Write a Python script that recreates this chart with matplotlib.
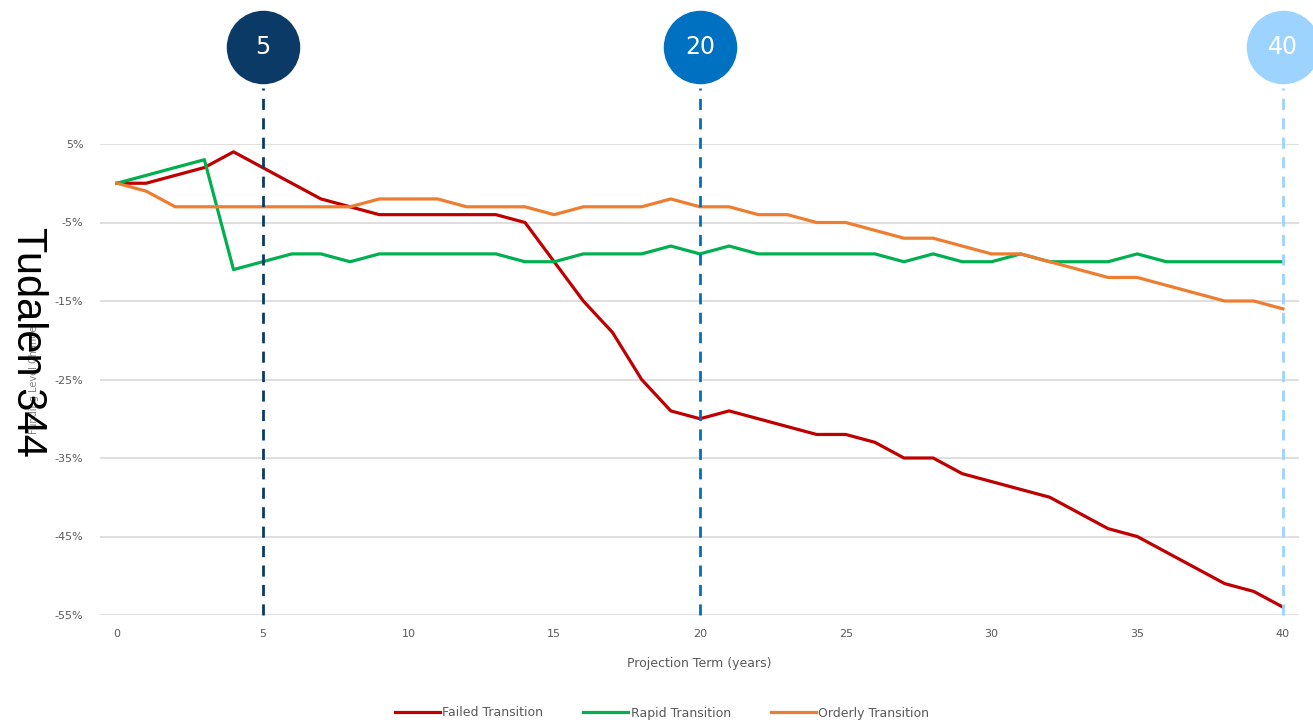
import matplotlib
matplotlib.use("Agg")
import matplotlib.pyplot as plt

years = list(range(0, 41))
failed = [0, 0, 1, 2, 4, 2, 0, -2, -3, -4, -4, -4, -4, -4, -5, -10, -15, -19, -25, -29,
          -30, -29, -30, -31, -32, -32, -33, -35, -35, -37, -38, -39, -40, -42, -44, -45,
          -47, -49, -51, -52, -54]
rapid = [0, 1, 2, 3, -11, -10, -9, -9, -10, -9, -9, -9, -9, -9, -10, -10, -9, -9, -9, -8,
         -9, -8, -9, -9, -9, -9, -9, -10, -9, -10, -10, -9, -10, -10, -10, -9,
         -10, -10, -10, -10, -10]
orderly = [0, -1, -3, -3, -3, -3, -3, -3, -3, -2, -2, -2, -3, -3, -3, -4, -3, -3, -3, -2,
           -3, -3, -4, -4, -5, -5, -6, -7, -7, -8, -9, -9, -10, -11, -12, -12,
           -13, -14, -15, -15, -16]
series_names = ["Failed Transition", "Rapid Transition", "Orderly Transition"]
series_colors = ["#C00000", "#00B050", "#ED7D31"]
yticks = [5, -5, -15, -25, -35, -45, -55]
xticks = [0, 5, 10, 15, 20, 25, 30, 35, 40]
markers = [5, 20, 40]
marker_colors = ["#0B3A66", "#0070C0", "#9DD3FF"]

W, H = 1313, 723
fig = plt.figure(figsize=(W / 100, H / 100), dpi=100)
ax = fig.add_axes([100 / W, 1 - 615 / H, (1299 - 100) / W, (615 - 144) / H])
ax.set_xlim(-0.58, 40.55)
ax.set_ylim(-55, 5)

for s in ax.spines.values():
    s.set_visible(False)
ax.set_yticks(yticks)
ax.set_yticklabels([f"{v}%" for v in yticks])
ax.set_xticks(xticks)
ax.tick_params(length=0, labelsize=8, labelcolor="#595959")
ax.tick_params(axis="y", pad=12)
ax.tick_params(axis="x", pad=10)
ax.grid(axis="y", color="#D9D9D9", linewidth=1.2)
ax.set_axisbelow(True)

lines = []
for vals, name, col in zip([failed, rapid, orderly], series_names, series_colors):
    ln, = ax.plot(years, vals, color=col, linewidth=2.3, label=name, zorder=3)
    lines.append(ln)

# marker lines and circles
for m, c in zip(markers, marker_colors):
    ax.plot([m, m], [-55, 12.1], color=c, linestyle=(0, (4, 3)), linewidth=2,
             clip_on=False, zorder=4)
    ax.scatter([m], [17.3], s=2800, color=c, clip_on=False, zorder=5, linewidths=0)
    ax.text(m, 17.3, str(m), color="white", fontsize=17, ha="center", va="center",
            zorder=6, clip_on=False)

ax.set_xlabel("Projection Term (years)", fontsize=9, color="#595959", labelpad=13)
fig.text(34 / W, 1 - 380 / H, "Funding Level Change", rotation=90, fontsize=7,
         color="#808080", ha="center", va="center")

leg = fig.legend(handles=lines, labels=series_names, loc="center",
                 bbox_to_anchor=(662 / W, 1 - 713 / H), ncol=3, frameon=False,
                 fontsize=9, handlelength=3.6, handletextpad=0.2, columnspacing=3.2)
for t in leg.get_texts():
    t.set_color("#595959")

fig.text(28 / W, 1 - 342 / H, "Tudalen 344", rotation=-90, fontsize=30,
         family="Liberation Sans", color="black", ha="center", va="center")

fig.savefig("out.png", dpi=100)
